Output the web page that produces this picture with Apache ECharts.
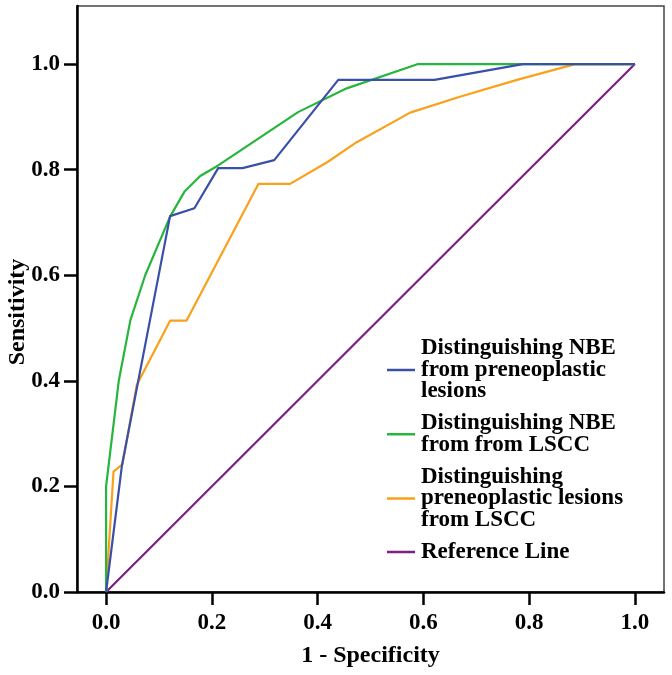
<!DOCTYPE html>
<html>
<head>
<meta charset="utf-8">
<script src="https://cdn.jsdelivr.net/npm/echarts@6/dist/echarts.min.js"></script>
<style>
  html, body { margin: 0; padding: 0; background: #fff; }
  #main { width: 672px; height: 675px; }
</style>
</head>
<body>
<div id="main"></div>
<script>
// ROC curves, points as [1 - specificity, sensitivity]
var nbeVsPre = [[0,0],[0.03,0.24],[0.121,0.712],[0.167,0.727],[0.212,0.803],[0.258,0.803],
  [0.318,0.818],[0.439,0.97],[0.621,0.97],[0.788,1.0],[1,1]];
var nbeVsLscc = [[0,0],[0,0.2],[0.024,0.4],[0.046,0.515],[0.074,0.6],[0.121,0.711],[0.148,0.758],
  [0.178,0.788],[0.212,0.808],[0.363,0.909],[0.455,0.954],[0.59,1.0],[1,1]];
var preVsLscc = [[0,0],[0.014,0.228],[0.031,0.242],[0.058,0.392],[0.121,0.514],[0.152,0.514],
  [0.288,0.773],[0.348,0.773],[0.418,0.814],[0.474,0.852],[0.575,0.908],[0.669,0.938],
  [0.777,0.97],[0.887,1.0],[1,1]];
var refLine = [[0,0],[1,1]];

var seriesNames = ['Distinguishing NBE from preneoplastic lesions', 'Distinguishing NBE from from LSCC',
  'Distinguishing preneoplastic lesions from LSCC', 'Reference Line'];
var legendLabels = ['Distinguishing NBE\nfrom preneoplastic\nlesions', 'Distinguishing NBE\nfrom from LSCC',
  'Distinguishing\npreneoplastic lesions\nfrom LSCC', 'Reference Line'];
var xTicks = [0, 0.2, 0.4, 0.6, 0.8, 1.0];
var yTicks = [0, 0.2, 0.4, 0.6, 0.8, 1.0];

var myChart = echarts.init(document.getElementById('main'));
var font = 'Liberation Serif';
var lbl = { fontFamily: font, fontWeight: 'bold', fontSize: 23, color: '#000' };

function fmt(v) { return v.toFixed(1); }

function axis(ticks, extra) {
  var a = {
    type: 'value',
    axisLine: { show: true, onZero: false, lineStyle: { color: '#000', width: 2.5 } },
    axisTick: { show: true, inside: false, length: 13, customValues: ticks, lineStyle: { color: '#000', width: 2.5 } },
    splitLine: { show: false },
    nameLocation: 'middle',
    nameMoveOverlap: false
  };
  return Object.assign(a, extra);
}

var data = [nbeVsPre, nbeVsLscc, preVsLscc, refLine];
var colors = ['#3a50a8', '#27b53c', '#f9a11b', '#7c1f82'];

option = {
  animation: false,
  grid: {
    left: 77, top: 6, right: 8, bottom: 83,
    outerBoundsMode: 'none', containLabel: false,
    show: true, borderColor: '#444', borderWidth: 1.5
  },
  legend: {
    orient: 'vertical',
    left: 387,
    top: 337,
    padding: 0,
    itemGap: 9,
    itemWidth: 28,
    itemHeight: 2.5,
    icon: 'rect',
    data: seriesNames,
    formatter: function (name) { return legendLabels[seriesNames.indexOf(name)]; },
    textStyle: { fontFamily: font, fontWeight: 'bold', fontSize: 23, lineHeight: 21.5, color: '#000', padding: [0, 0, 0, 1] }
  },
  xAxis: axis(xTicks, {
    min: -0.055, max: 1.055, name: '1 - Specificity', nameGap: 52,
    nameTextStyle: Object.assign({}, lbl, { fontSize: 24 }),
    axisLabel: Object.assign({ customValues: xTicks, margin: 20, formatter: fmt }, lbl)
  }),
  yAxis: axis(yTicks, {
    min: 0, max: 1.11, name: 'Sensitivity', nameGap: 47, nameRotate: 90,
    nameTextStyle: Object.assign({}, lbl, { fontSize: 24, padding: [0, 26, 0, 0] }),
    axisLabel: Object.assign({ customValues: yTicks, margin: 17, formatter: fmt }, lbl)
  }),
  series: data.map(function (d, i) {
    return {
      name: seriesNames[i],
      type: 'line',
      data: d,
      symbol: 'none',
      color: colors[i],
      lineStyle: { color: colors[i], width: 2.2 },
      z: 10 - i
    };
  })
};
myChart.setOption(option);
</script>
</body>
</html>
